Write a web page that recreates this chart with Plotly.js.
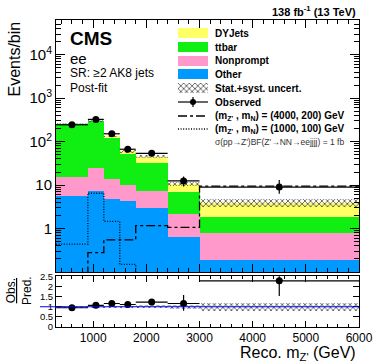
<!DOCTYPE html>
<html>
<head>
<meta charset="utf-8">
<script src="https://cdn.plot.ly/plotly-3.0.1.min.js"></script>
<style>
  body { margin: 0; background: #fff; }
  #graphContainer { width: 374px; height: 363px; }
</style>
</head>
<body>
<div id="graphContainer"></div>
<script>
// bin edges (GeV) and contents
const edges = [300, 900, 1200, 1500, 1800, 2400, 3000, 6000];
const other = [5.5, 7.5, 4.7, 4.3, 3.0, 0.65, 0.19];
const nonprompt = [10.3, 17.5, 8.8, 6.0, 4.5, 1.55, 0.6];
const ttbar = [234, 272, 106.5, 42.3, 24.5, 4.7, 1.05];
const dyjets = [8, 5, 12, 7, 13, 3.8, 2.1];
const uncFrac = [0.04, 0.04, 0.05, 0.06, 0.08, 0.11, 0.2];
const observed = [245, 326, 152, 67, 54, 12.5, 9];
const obsErrUp = [16, 18, 12, 8, 7.5, 3.3, 4.2];
const obsErrDn = [15, 17, 12, 8, 7, 3.2, 2.7];
const sig4000 = [0.01, 0.28, 0.55, 0.55, 1.17, 1.07, 9.5];
const sig1000 = [0.44, 6.5, 1.47, 0.15, 0.01, 0.01, 0.01];
const ratio = [0.95, 1.07, 1.16, 1.11, 1.23, 1.16, 2.28];
const ratioErrUp = [0.05, 0.05, 0.08, 0.1, 0.15, 0.42, 0.9];
const ratioErrDn = [0.05, 0.05, 0.08, 0.1, 0.15, 0.36, 0.75];
const yTickVals = [1, 10, 100, 1000, 10000];
const yTickText = ["1", "10", "10<sup>2</sup>", "10<sup>3</sup>", "10<sup>4</sup>"];
const rTickVals = [0, 0.5, 1, 1.5, 2, 2.5];
const rTickText = ["0", "0.5", "1", "1.5", "2", "2.5"];

const colors = {dy: "#ffff66", tt: "#11ee11", np: "#ff99cc", ot: "#0099ff"};
const fontFam = "Liberation Sans, Arial, Helvetica, sans-serif";

// bin centres / widths
let centers = [], widths = [], halfW = [];
for (let i = 0; i < edges.length - 1; i++) {
    centers.push((edges[i] + edges[i + 1]) / 2);
    widths.push(edges[i + 1] - edges[i]);
    halfW.push((edges[i + 1] - edges[i]) / 2);
}
let pred = centers.map((c, i) => other[i] + nonprompt[i] + ttbar[i] + dyjets[i]);

function stackBar(vals, color) {
    return {type: "bar", x: centers, y: vals, width: widths, xaxis: "x", yaxis: "y",
        marker: {color: color, line: {width: 0}}, hoverinfo: "skip", showlegend: false};
}
const dotted = "1px,1.6px";
function step(vals, dash) {
    return {type: "scatter", mode: "lines", x: edges, y: vals.concat([vals[vals.length - 1]]),
        line: {shape: "hv", color: "black", width: 1.3, dash: dash}, xaxis: "x", yaxis: "y",
        hoverinfo: "skip", showlegend: false};
}
const hatch = {shape: "x", fgcolor: "#444", bgcolor: "rgba(0,0,0,0)", size: 4, solidity: 0.35};

let graphData = [
    stackBar(other, colors.ot),
    stackBar(nonprompt, colors.np),
    stackBar(ttbar, colors.tt),
    stackBar(dyjets, colors.dy),
    {type: "bar", x: centers, width: widths, xaxis: "x", yaxis: "y",
        base: pred.map((p, i) => p * (1 - uncFrac[i])),
        y: pred.map((p, i) => 2 * p * uncFrac[i]),
        marker: {color: "rgba(0,0,0,0)", line: {width: 0}, pattern: hatch},
        hoverinfo: "skip", showlegend: false},
    step(sig4000, "dashdot"),
    step(sig1000, dotted),
    {type: "scatter", mode: "markers", x: centers, y: observed, xaxis: "x", yaxis: "y",
        marker: {color: "black", size: 7},
        error_x: {type: "data", array: halfW, color: "black", thickness: 1.2, width: 0},
        error_y: {type: "data", symmetric: false, array: obsErrUp, arrayminus: obsErrDn, color: "black", thickness: 1.2, width: 0},
        hoverinfo: "skip", showlegend: false},
    // ratio panel
    {type: "bar", x: centers, width: widths, xaxis: "x2", yaxis: "y2",
        base: uncFrac.map(u => 1 - u), y: uncFrac.map(u => 2 * u),
        marker: {color: "rgba(0,0,0,0)", line: {width: 0}, pattern: hatch},
        hoverinfo: "skip", showlegend: false},
    {type: "scatter", mode: "markers", x: centers, y: ratio, xaxis: "x2", yaxis: "y2",
        marker: {color: "black", size: 7},
        error_x: {type: "data", array: halfW, color: "black", thickness: 1.2, width: 0},
        error_y: {type: "data", symmetric: false, array: ratioErrUp, arrayminus: ratioErrDn, color: "black", thickness: 1.2, width: 0},
        hoverinfo: "skip", showlegend: false},
    // hatched swatch for the legend (hidden axes)
    {type: "bar", x: [0.5], y: [1], width: [1], xaxis: "x3", yaxis: "y3",
        marker: {color: "rgba(0,0,0,0)", line: {width: 0}, pattern: hatch},
        hoverinfo: "skip", showlegend: false}
];

// pixel -> paper helpers for the hand-made legend and labels
const W = 374, H = 363, mL = 56, mR = 15, mT = 20, mB = 36;
const pw = W - mL - mR, ph = H - mT - mB;
function px(x) { return (x - mL) / pw; }
function py(y) { return (H - mB - y) / ph; }

let shapes = [], annotations = [];
function text(x, y, s, size, opts) {
    annotations.push(Object.assign({xref: "paper", yref: "paper", x: px(x), y: py(y), text: s,
        showarrow: false, xanchor: "left", yanchor: "middle",
        font: {family: fontFam, size: size, color: "black"}}, opts || {}));
}

// legend
const legX0 = 178, legX1 = 208, legTx = 213;
const rows = [33, 47, 61, 74, 88, 102, 116, 129, 142];
const boxes = [colors.dy, colors.tt, colors.np, colors.ot];
boxes.forEach((c, i) => {
    shapes.push({type: "rect", xref: "paper", yref: "paper", x0: px(legX0), x1: px(legX1),
        y0: py(rows[i] + 5), y1: py(rows[i] - 5), fillcolor: c, line: {width: 0}});
});
shapes.push({type: "line", xref: "paper", yref: "paper", x0: px(legX0), x1: px(legX1),
    y0: py(rows[5]), y1: py(rows[5]), line: {color: "black", width: 1.2}});
shapes.push({type: "line", xref: "paper", yref: "paper", x0: px(193), x1: px(193),
    y0: py(rows[5] - 5), y1: py(rows[5] + 5), line: {color: "black", width: 1.2}});
shapes.push({type: "circle", xref: "paper", yref: "paper", xsizemode: "pixel", ysizemode: "pixel",
    xanchor: px(193), yanchor: py(rows[5]), x0: -3, x1: 3, y0: -3, y1: 3,
    fillcolor: "black", line: {width: 0}});
shapes.push({type: "line", xref: "paper", yref: "paper", x0: px(legX0), x1: px(legX1),
    y0: py(rows[6]), y1: py(rows[6]), line: {color: "black", width: 1.3, dash: "dashdot"}});
shapes.push({type: "line", xref: "paper", yref: "paper", x0: px(legX0), x1: px(legX1),
    y0: py(rows[7]), y1: py(rows[7]), line: {color: "black", width: 1.3, dash: dotted}});

const legText = ["<b>DYJets</b>", "<b>ttbar</b>", "<b>Nonprompt</b>", "<b>Other</b>",
    "<b>Stat.+syst. uncert.</b>", "<b>Observed</b>",
    "<b>(m<sub>Z'</sub> , m<sub>N</sub>) = (4000, 200) GeV</b>",
    "<b>(m<sub>Z'</sub> , m<sub>N</sub>) = (1000, 100) GeV</b>"];
legText.forEach((t, i) => text(legTx, rows[i], t, 10));
text(legTx, rows[8], "σ(pp→Z')BF(Z'→NN→eejjjj) = 1 fb", 8.5, {font: {family: fontFam, size: 8.5, color: "#333"}});

// CMS labels
text(68, 38, "<b>CMS</b>", 19);
text(68, 58, "ee", 15);
text(68, 73, "SR: ≥2 AK8 jets", 12);
text(68, 88, "Post-fit", 12);
annotations.push({xref: "paper", yref: "paper", x: px(358), y: py(11), xanchor: "right", yanchor: "middle",
    text: "<b>138 fb<sup>-1</sup> (13 TeV)</b>", showarrow: false, font: {family: fontFam, size: 11, color: "black"}});

// axis titles
annotations.push({xref: "paper", yref: "paper", x: px(14), y: py(19), xanchor: "center", yanchor: "top",
    textangle: -90, text: "Events/bin", showarrow: false, font: {family: fontFam, size: 16, color: "black"}});
annotations.push({xref: "paper", yref: "paper", x: px(358), y: py(353), xanchor: "right", yanchor: "middle",
    text: "Reco. m<sub>Z'</sub> (GeV)", showarrow: false, font: {family: fontFam, size: 16, color: "black"}});
annotations.push({xref: "paper", yref: "paper", x: px(19), y: py(291), xanchor: "center", yanchor: "middle",
    textangle: -90, text: "<u>Obs.</u><br>Pred.", showarrow: false, font: {family: fontFam, size: 12, color: "black"}});

// blue unity line in ratio panel
shapes.push({type: "line", xref: "paper", yref: "y2", x0: px(40), x1: 1, y0: 1, y1: 1,
    line: {color: "#0000ff", width: 1.2}});

function axisBase() {
    return {showline: true, linecolor: "black", linewidth: 1, mirror: "allticks", ticks: "inside",
        showgrid: false, zeroline: false, tickcolor: "black",
        tickfont: {family: fontFam, size: 12, color: "black"}};
}
const hiddenAxis = {visible: false, showgrid: false, zeroline: false, range: [0, 1], fixedrange: true};

let graphLayout = {
    width: W, height: H,
    margin: {l: mL, r: mR, t: mT, b: mB},
    paper_bgcolor: "white", plot_bgcolor: "white",
    barmode: "stack", bargap: 0, showlegend: false,
    xaxis: Object.assign(axisBase(), {domain: [0, 1], anchor: "y", range: [300, 6000], tick0: 0, dtick: 1000,
        ticklen: 8, showticklabels: false, minor: {dtick: 200, ticks: "inside", ticklen: 4, tickcolor: "black"}}),
    yaxis: Object.assign(axisBase(), {domain: [0.179, 1], anchor: "x", type: "log", range: [-1, 4.8],
        tickvals: yTickVals, ticktext: yTickText, ticklen: 9,
        tickfont: {family: fontFam, size: 15, color: "black"},
        minor: {ticks: "inside", ticklen: 5, tickcolor: "black", dtick: "D1"}}),
    xaxis2: Object.assign(axisBase(), {domain: [0, 1], anchor: "y2", matches: "x", range: [300, 6000], tick0: 0, dtick: 1000,
        ticklen: 6, ticklabelstandoff: 0, tickfont: {family: fontFam, size: 12, color: "black"},
        minor: {dtick: 200, ticks: "inside", ticklen: 3, tickcolor: "black"}}),
    yaxis2: Object.assign(axisBase(), {domain: [0, 0.165], anchor: "x2", range: [0, 2.5],
        tickvals: rTickVals, ticktext: rTickText, ticklen: 6,
        tickfont: {family: fontFam, size: 9.5, color: "black"}}),
    xaxis3: Object.assign({domain: [px(legX0), px(legX1)], anchor: "y3"}, hiddenAxis),
    yaxis3: Object.assign({domain: [py(rows[4] + 5), py(rows[4] - 5)], anchor: "x3"}, hiddenAxis),
    shapes: shapes,
    annotations: annotations
};

Plotly.newPlot("graphContainer", graphData, graphLayout, {displayModeBar: false, staticPlot: true});
</script>
</body>
</html>
